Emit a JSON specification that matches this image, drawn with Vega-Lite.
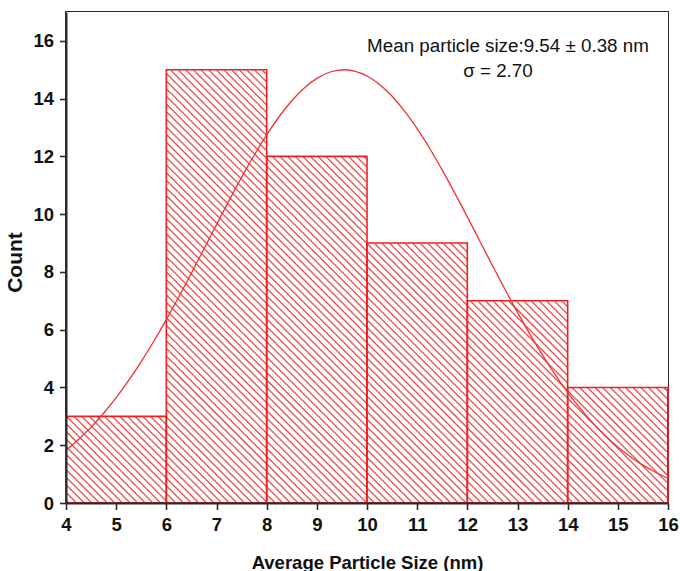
{
  "$schema": "https://vega.github.io/schema/vega-lite/v6.json",
  "autosize": {"type": "none"},
  "width": 602,
  "height": 491,
  "padding": {"left": 66, "top": 12, "right": 12, "bottom": 68},
  "background": "white",
  "config": {
    "view": {"stroke": "#2a2a2a", "strokeWidth": 2},
    "font": "Liberation Sans"
  },
  "datasets": {
    "bins": [
      {"start": 4, "end": 6, "count": 3},
      {"start": 6, "end": 8, "count": 15},
      {"start": 8, "end": 10, "count": 12},
      {"start": 10, "end": 12, "count": 9},
      {"start": 12, "end": 14, "count": 7},
      {"start": 14, "end": 16, "count": 4}
    ],
    "fit": [
      {"size": 4.0, "fit": 1.828}, {"size": 4.25, "fit": 2.201}, {"size": 4.5, "fit": 2.627},
      {"size": 4.75, "fit": 3.109}, {"size": 5.0, "fit": 3.649}, {"size": 5.25, "fit": 4.245},
      {"size": 5.5, "fit": 4.897}, {"size": 5.75, "fit": 5.601}, {"size": 6.0, "fit": 6.351},
      {"size": 6.25, "fit": 7.140}, {"size": 6.5, "fit": 7.958}, {"size": 6.75, "fit": 8.795},
      {"size": 7.0, "fit": 9.636}, {"size": 7.25, "fit": 10.469}, {"size": 7.5, "fit": 11.275},
      {"size": 7.75, "fit": 12.041}, {"size": 8.0, "fit": 12.748}, {"size": 8.25, "fit": 13.382},
      {"size": 8.5, "fit": 13.928}, {"size": 8.75, "fit": 14.371}, {"size": 9.0, "fit": 14.703},
      {"size": 9.25, "fit": 14.914}, {"size": 9.54, "fit": 15.0}, {"size": 9.75, "fit": 14.955},
      {"size": 10.0, "fit": 14.784}, {"size": 10.25, "fit": 14.490}, {"size": 10.5, "fit": 14.081},
      {"size": 10.75, "fit": 13.567}, {"size": 11.0, "fit": 12.960}, {"size": 11.25, "fit": 12.274},
      {"size": 11.5, "fit": 11.525}, {"size": 11.75, "fit": 10.730}, {"size": 12.0, "fit": 9.905},
      {"size": 12.25, "fit": 9.064}, {"size": 12.5, "fit": 8.224}, {"size": 12.75, "fit": 7.399},
      {"size": 13.0, "fit": 6.599}, {"size": 13.25, "fit": 5.836}, {"size": 13.5, "fit": 5.117},
      {"size": 13.75, "fit": 4.448}, {"size": 14.0, "fit": 3.833}, {"size": 14.25, "fit": 3.276},
      {"size": 14.5, "fit": 2.775}, {"size": 14.75, "fit": 2.331}, {"size": 15.0, "fit": 1.941},
      {"size": 15.25, "fit": 1.603}, {"size": 15.5, "fit": 1.312}, {"size": 15.75, "fit": 1.065},
      {"size": 16.0, "fit": 0.857}
    ],
    "notes": [
      {"line": "Mean particle size:9.54 ± 0.38 nm", "xpos": 12.81, "ypos": 15.84},
      {"line": "σ = 2.70", "xpos": 12.61, "ypos": 14.97}
    ]
  },
  "layer": [
    {
      "description": "Diagonal hatching: one very wide dashed stroke, clipped to the plot, whose dashes form the stripes",
      "data": {"values": [{}]},
      "mark": {"type": "rule", "clip": true, "color": "#f24545", "strokeWidth": 1000, "strokeDash": [1.25, 4.15], "strokeCap": "butt"},
      "encoding": {
        "x": {"datum": 2.824, "type": "quantitative", "scale": {"domain": [4, 16]}},
        "x2": {"datum": 17.176},
        "y": {"datum": -3.965, "type": "quantitative", "scale": {"domain": [0, 17]}},
        "y2": {"datum": 20.965}
      }
    },
    {
      "description": "White cover above each bar so the hatching only shows inside the bars",
      "data": {"name": "bins"},
      "mark": {"type": "rect", "fill": "white", "stroke": "white", "strokeWidth": 1, "clip": true},
      "encoding": {
        "x": {"field": "start", "type": "quantitative", "scale": {"domain": [4, 16]}},
        "x2": {"field": "end"},
        "y": {"field": "count", "type": "quantitative", "scale": {"domain": [0, 17]}},
        "y2": {"datum": 17}
      }
    },
    {
      "data": {"name": "bins"},
      "mark": {"type": "rect", "fill": "white", "fillOpacity": 0, "stroke": "#f01e1e", "strokeWidth": 1.6},
      "encoding": {
        "x": {
          "field": "start", "type": "quantitative",
          "scale": {"domain": [4, 16], "nice": false, "zero": false},
          "axis": {
            "title": "Average Particle Size (nm)",
            "values": [4, 4.5, 5, 5.5, 6, 6.5, 7, 7.5, 8, 8.5, 9, 9.5, 10, 10.5, 11, 11.5, 12, 12.5, 13, 13.5, 14, 14.5, 15, 15.5, 16],
            "labelExpr": "datum.value % 1 === 0 ? datum.label : ''",
            "labelOverlap": false,
            "labelFlush": false,
            "tickSize": {"condition": {"test": "datum.value % 1 !== 0", "value": 3.5}, "value": 6.5},
            "zindex": 1,
            "grid": false,
            "domainColor": "#2a2a2a", "domainWidth": 2,
            "tickColor": "#2a2a2a", "tickWidth": 1.6,
            "labelFont": "Liberation Sans", "labelFontWeight": "bold", "labelFontSize": 18.5, "labelColor": "#111",
            "labelPadding": 6,
            "titleFont": "Liberation Sans", "titleFontWeight": "bold", "titleFontSize": 18.5, "titleColor": "#111",
            "titleBaseline": "alphabetic", "titleY": 65, "titleX": 301
          }
        },
        "x2": {"field": "end"},
        "y": {
          "field": "count", "type": "quantitative",
          "scale": {"domain": [0, 17], "nice": false},
          "axis": {
            "title": "Count",
            "values": [0, 1, 2, 3, 4, 5, 6, 7, 8, 9, 10, 11, 12, 13, 14, 15, 16],
            "labelExpr": "datum.value % 2 === 0 ? datum.label : ''",
            "labelOverlap": false,
            "labelFlush": false,
            "tickSize": {"condition": {"test": "datum.value % 2 !== 0", "value": 3.5}, "value": 6.5},
            "zindex": 1,
            "grid": false,
            "domainColor": "#2a2a2a", "domainWidth": 2,
            "tickColor": "#2a2a2a", "tickWidth": 1.6,
            "labelFont": "Liberation Sans", "labelFontWeight": "bold", "labelFontSize": 18.5, "labelColor": "#111",
            "labelPadding": 6,
            "titleFont": "Liberation Sans", "titleFontWeight": "bold", "titleFontSize": 21, "titleColor": "#111",
            "titleX": -41, "titleY": 250
          }
        },
        "y2": {"datum": 0}
      }
    },
    {
      "description": "Gaussian fit of the size distribution",
      "data": {"name": "fit"},
      "mark": {"type": "line", "color": "#f23030", "strokeWidth": 1.3, "interpolate": "monotone"},
      "encoding": {
        "x": {"field": "size", "type": "quantitative", "scale": {"domain": [4, 16]}},
        "y": {"field": "fit", "type": "quantitative", "scale": {"domain": [0, 17]}}
      }
    },
    {
      "data": {"name": "notes"},
      "mark": {"type": "text", "font": "Liberation Sans", "fontSize": 18.8, "color": "#111", "align": "center", "baseline": "middle"},
      "encoding": {
        "x": {"field": "xpos", "type": "quantitative", "scale": {"domain": [4, 16]}},
        "y": {"field": "ypos", "type": "quantitative", "scale": {"domain": [0, 17]}},
        "text": {"field": "line"}
      }
    }
  ]
}
